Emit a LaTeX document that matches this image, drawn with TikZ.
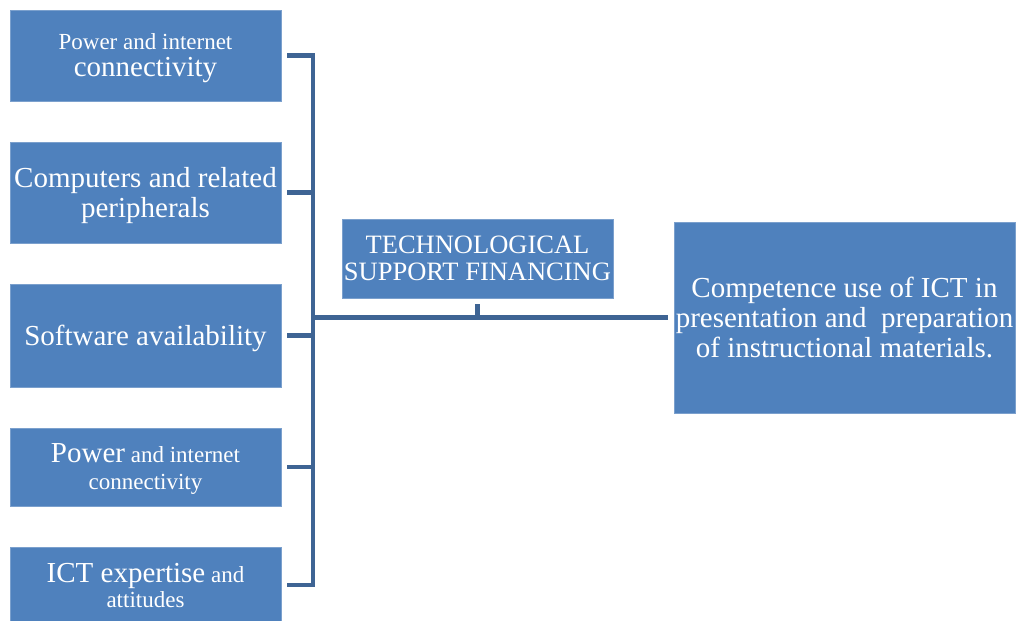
\documentclass[tikz,border=0pt]{standalone}
\usepackage{fontspec}
\setmainfont{Liberation Serif}
\usetikzlibrary{positioning}

\definecolor{boxblue}{RGB}{79,129,189}
\definecolor{linkblue}{RGB}{62,100,148}
\newcommand{\bigtxt}{\fontsize{29}{30}\selectfont}
\newcommand{\smalltxt}{\fontsize{23}{27}\selectfont}
\tikzset{
  factor/.style={rectangle, fill=boxblue, draw=boxblue!75!white, line width=0.8pt, text=white,
    align=center, inner sep=0pt, outer sep=6pt, minimum width=271pt},
  sidebox/.style={factor, text depth=0pt},
  link/.style={draw=linkblue, line width=4.5pt}
}

\begin{document}
\begin{tikzpicture}[x=1pt, y=-1pt]
        \useasboundingbox (0,0) rectangle (1018,621);
        \node[sidebox, minimum height=91pt, font=\bigtxt] (f1) at (145.5,55.5) {\smalltxt Power and internet\\[-3pt]connectivity};
        \node[sidebox, minimum height=101pt, font=\bigtxt] (f2) at (145.5,192.5) {Computers and related\\peripherals};
        \node[sidebox, minimum height=103pt, font=\bigtxt] (f3) at (145.5,335.5) {Software availability};
        \node[sidebox, minimum height=78pt, font=\smalltxt] (f4) at (145.5,467) {{\bigtxt Power}\ and internet\\connectivity};
        \node[sidebox, minimum height=76pt, font=\smalltxt] (f5) at (145.5,585) {{\bigtxt ICT expertise}\ and\\[-2pt]attitudes};
        %---------------------------
        \node[factor, minimum height=79pt, font=\fontsize{26.5}{27}\selectfont] (tech) at (477.5,258.5) {TECHNOLOGICAL\\SUPPORT FINANCING};
        \node[factor, minimum width=341pt, minimum height=191pt, font=\bigtxt] (out) at (844.5,317.5) {Competence use of ICT in\\presentation and \ preparation\\of instructional materials.};
        \coordinate (spine) at (313,0);
        %---------------------------
        \draw[link] (f1.east) -| (spine |- f5.east) -- (f5.east);
        \draw[link] (f2.east) -- (f2.east -| spine);
        \draw[link] (f3.east) -- (f3.east -| spine);
        \draw[link] (f4.east) -- (f4.east -| spine);
        \draw[link] (spine |- out.west) -- (out.west);
        \draw[link] (tech.south) -- (tech.south |- out.west);
\end{tikzpicture}
\end{document}
